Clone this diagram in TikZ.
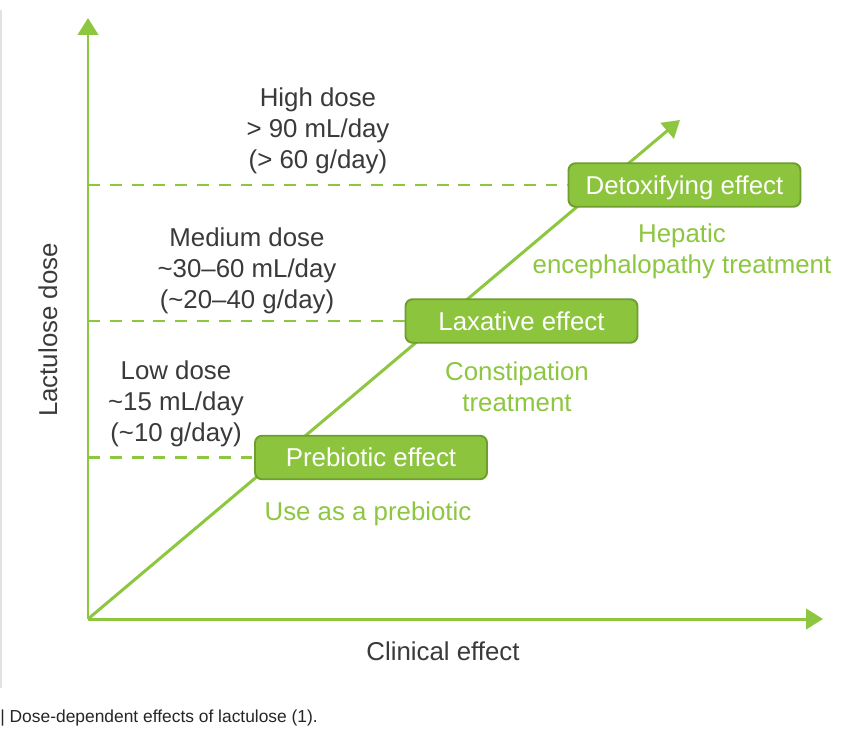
\documentclass[tikz,border=0pt]{standalone}
\usepackage{fontspec}
\setmainfont{Liberation Sans}
\usetikzlibrary{arrows.meta}
\definecolor{lgreen}{HTML}{8DC63F}
\definecolor{bgreen}{HTML}{8CC43E}
\definecolor{dgreen}{HTML}{6E9E2E}
\definecolor{tgrey}{HTML}{3A3A3A}
\definecolor{frame}{HTML}{E2E2E2}
\newcommand{\tl}{\textasciitilde}
\begin{document}
\begin{tikzpicture}[x=0.02cm,y=-0.02cm,
  axis/.style={draw=lgreen, line width=1.7pt, -{Triangle[width=11.5pt,length=9.6pt]}},
  guide/.style={draw=lgreen, line width=1.7pt, dash pattern=on 6.8pt off 5.6pt},
  effbox/.style={draw=dgreen, fill=bgreen, line width=1.1pt, rounded corners=4pt,
    text=white, minimum width=4.64cm, minimum height=0.87cm, inner sep=0pt,
    text height=10.5pt, text depth=0pt,
    font=\fontsize{14.7}{17.6}\selectfont},
  greytxt/.style={text=tgrey, align=center, inner sep=0pt, font=\fontsize{14.7}{17.6}\selectfont},
  greentxt/.style={text=lgreen, align=center, inner sep=0pt, font=\fontsize{14.7}{17.6}\selectfont}]
\useasboundingbox (0,0) rectangle (853,741);
\fill[white] (0,0) rectangle (853,741);
% thin frame line at left
\coordinate (ftop) at (1,10);
\coordinate (fbot) at (1,688);
\draw[frame, line width=0.6pt] (ftop) -- (fbot);
% axes
\coordinate (O) at (88,619);
\coordinate (ytip) at (88,18);
\coordinate (xtip) at (823,619);
\coordinate (dtip) at (680,120);
\draw[axis] (O) -- (ytip);
\draw[axis] (O) -- (xtip);
\draw[axis] (O) -- (dtip);
% effect boxes
\node[effbox] (detox) at (684.5,185) {Detoxifying effect};
\node[effbox] (lax) at (521.5,321) {Laxative effect};
\node[effbox] (preb) at (371,457.5) {Prebiotic effect};
% dashed guides
\coordinate (yh) at (88,185);
\coordinate (ym) at (88,321);
\coordinate (yl) at (88,457.5);
\draw[guide] (yh) -- (detox.west);
\draw[guide] (ym) -- (lax.west);
\draw[guide] (yl) -- (preb.west);
% dose labels
\node[greytxt] (high) at (318,131) {High dose\\> 90 mL/day\\(> 60 g/day)};
\node[greytxt] (med) at (247,271) {Medium dose\\\tl30–60 mL/day\\(\tl20–40 g/day)};
\node[greytxt] (low) at (176,404) {Low dose\\\tl15 mL/day\\(\tl10 g/day)};
% use labels
\node[greentxt] (hep) at (682,251) {Hepatic\\encephalopathy treatment};
\node[greentxt] (con) at (517,387) {Constipation\\treatment};
\node[greentxt] (use) at (368,514) {Use as a prebiotic};
% axis titles
\node[greytxt, rotate=90] (ylab) at (48,330) {Lactulose dose};
\node[greytxt] (xlab) at (443,651) {Clinical effect};
% caption
\node[anchor=west, inner sep=0pt, text=black!85, font=\fontsize{9.9}{11.8}\selectfont] (cap) at (0,718) {| Dose-dependent effects of lactulose (1).};
\end{tikzpicture}
\end{document}
